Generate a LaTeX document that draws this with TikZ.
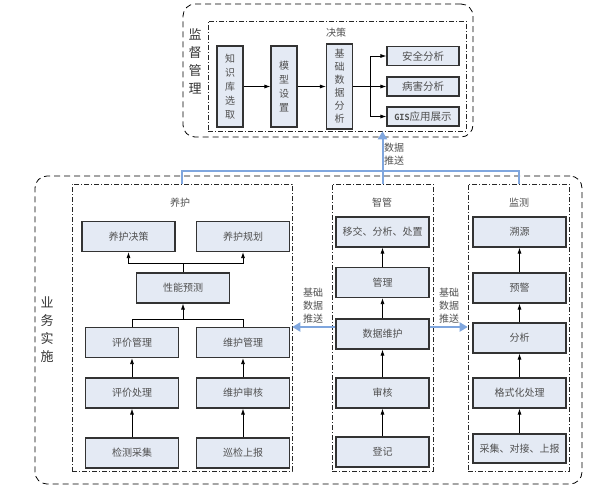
\documentclass[tikz,border=0pt]{standalone}
\usepackage{fontspec}
\usepackage{xcolor}
\usepackage{tikz}
\usetikzlibrary{arrows.meta}
\setmainfont{Noto Sans CJK SC}
\newfontfamily\gisfont{DejaVu Sans Mono}
\definecolor{cEdge}{HTML}{333333}
\definecolor{cFill}{HTML}{E4EAF4}
\definecolor{cText}{HTML}{505050}
\definecolor{cPush}{HTML}{7FA6DE}

\begin{document}
\begin{tikzpicture}[
  x=1pt,y=-1pt,font=\fontsize{10}{13}\selectfont,
  box/.style={draw=cEdge,fill=cFill,line width=1.1pt,text=cText,align=center,
              inner sep=0pt,minimum width=93pt,minimum height=30pt},
  vbox/.style={box,minimum width=26pt,minimum height=81pt,font=\fontsize{10}{14}\selectfont},
  sbox/.style={box,minimum width=72pt,minimum height=19pt,font=\fontsize{10.5}{13}\selectfont},
  outer/.style={draw=black,dash pattern=on 6pt off 4pt,line width=0.8pt,rounded corners=12pt,
                inner sep=0pt},
  grp/.style={draw=black!85,dash pattern=on 5pt off 2pt on 1pt off 2pt,line width=0.6pt,
              inner sep=0pt},
  ar/.style={-{Latex[length=6pt,width=4pt]},line width=0.8pt},
  ln/.style={line width=0.8pt},
  push/.style={-{Triangle[length=8pt,width=9pt]},draw=cPush,line width=2pt},
  lbl/.style={text=cText,align=center,inner sep=0pt},
  big/.style={text=black!80,align=center,inner sep=0pt,font=\fontsize{13}{18}\selectfont}
]
\useasboundingbox (0,0) rectangle (599,491);

% ---- moldura superior
\node[outer,minimum width=290pt,minimum height=133pt] (jdgl) at (328,70.5) {};
\node[grp,minimum width=258pt,minimum height=110pt] (jcq) at (337,76) {};
\node[big] (tjd) at (195,61.5) {监\\督\\管\\理};
\node[lbl] (tjc) at (336,33) {决策};

\node[vbox] (zs) at (230,86.5) {知\\识\\库\\选\\取};
\node[vbox] (mx) at (284,86.5) {模\\型\\设\\置};
\node[vbox,minimum height=85pt,font=\fontsize{10}{13}\selectfont] (jf) at (339.5,86.5) {基\\础\\数\\据\\分\\析};
\node[sbox] (aq) at (423,56) {安全分析};
\node[sbox] (bh) at (423,86.5) {病害分析};
\node[sbox] (gis) at (423,116.5) {{\gisfont\bfseries\fontsize{8.5}{10}\selectfont GIS}应用展示};

\draw[ar] (zs) -- (mx);
\draw[ar] (mx) -- (jf);
\coordinate (br) at (370,86.5);
\draw[ln] (jf.east) -- (br);
\draw[ar] (br) |- (aq.west);
\draw[ar] (br) -- (bh.west);
\draw[ar] (br) |- (gis.west);

% ---- moldura inferior
\node[outer,minimum width=547pt,minimum height=308pt] (ywss) at (308.5,330) {};
\node[big] (tyw) at (47,330) {业\\务\\实\\施};
\node[grp,minimum width=220pt,minimum height=287pt] (yhq) at (182,327.5) {};
\node[grp,minimum width=101pt,minimum height=287pt] (zgq) at (382.5,327.5) {};
\node[grp,minimum width=101pt,minimum height=287pt] (jcg) at (518.5,327.5) {};
\node[lbl] (tyh) at (180,203) {养护};
\node[lbl] (tzg) at (382,203) {智管};
\node[lbl] (tjcg) at (519,203) {监测};

% ---- coluna养护
\node[box] (yj) at (128.5,236.5) {养护决策};
\node[box] (yg) at (243,236.5) {养护规划};
\node[box] (xn) at (183,288) {性能预测};
\node[box] (pg) at (132,342.5) {评价管理};
\node[box] (wg) at (243,342.5) {维护管理};
\node[box] (pc) at (132,393) {评价处理};
\node[box] (ws) at (243,393) {维护审核};
\node[box] (jccj) at (132,453) {检测采集};
\node[box] (xj) at (243,453) {巡检上报};

\coordinate (up) at (183,263);
\coordinate (dn) at (183,319);
\draw[ln] (xn.north) -- (up);
\draw[ar] (up) -| (yj.south);
\draw[ar] (up) -| (yg.south);
\draw[ln] (pg.north) |- (dn);
\draw[ln] (wg.north) |- (dn);
\draw[ar] (dn) -- (xn.south);
\draw[ar] (pc) -- (pg);
\draw[ar] (ws) -- (wg);
\draw[ar] (jccj) -- (pc);
\draw[ar] (xj) -- (ws);

% ---- coluna智管
\node[box] (yc) at (382.5,232) {移交、分析、处置};
\node[box] (gl) at (382.5,282.5) {管理};
\node[box] (sj) at (382.5,334) {数据维护};
\node[box] (sh) at (382.5,393) {审核};
\node[box] (dj) at (382.5,452) {登记};
\draw[ar] (dj) -- (sh);
\draw[ar] (sh) -- (sj);
\draw[ar] (sj) -- (gl);
\draw[ar] (gl) -- (yc);

% ---- coluna监测
\node[box] (sy) at (519.5,232) {溯源};
\node[box] (yjg) at (519.5,288) {预警};
\node[box] (fx) at (519.5,338) {分析};
\node[box] (gs) at (519.5,393) {格式化处理};
\node[box,minimum height=29pt] (cj) at (519.5,448.5) {采集、对接、上报};
\draw[ar] (cj) -- (gs);
\draw[ar] (gs) -- (fx);
\draw[ar] (fx) -- (yjg);
\draw[ar] (yjg) -- (sy);

% ---- setas de dados
\draw[push] ([yshift=7pt]sj.west) -- ([yshift=7pt]sj.west -| yhq.east);
\draw[push] ([yshift=7pt]sj.east) -- ([yshift=7pt]sj.east -| jcg.west);
\node[lbl,font=\fontsize{10}{13}\selectfont] (tl) at (313,306) {基础\\数据\\推送};
\node[lbl,font=\fontsize{10}{13}\selectfont] (tr) at (449,306) {基础\\数据\\推送};

\coordinate (bus) at (382.5,171);
\draw[cPush,line width=2pt] (yhq.north) |- (bus) -| (jcg.north);
\draw[push] (zgq.north) -- (zgq.north |- jcq.south);
\node[lbl,anchor=west] (tup) at (384,154.5) {数据\\推送};
\end{tikzpicture}
\end{document}
